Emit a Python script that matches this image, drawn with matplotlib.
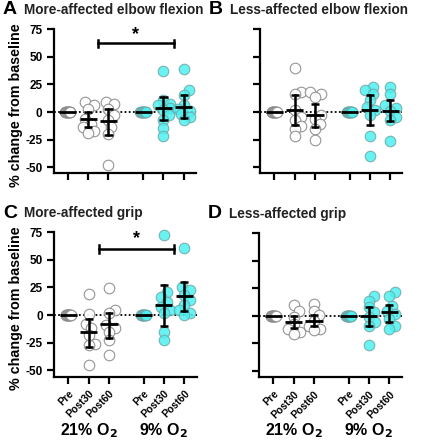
import numpy as np
import matplotlib
matplotlib.use("Agg")
import matplotlib.pyplot as plt

plt.rcParams['font.family'] = ['Liberation Sans', 'DejaVu Sans']
plt.rcParams['font.weight'] = 'bold'

conditions = ["Pre", "Post30", "Post60", "Pre", "Post30", "Post60"]
group_labels = ["21% O$_\\mathbf{2}$", "9% O$_\\mathbf{2}$"]
panel_letters = ["A", "B", "C", "D"]
panel_titles = ["More-affected elbow flexion", "Less-affected elbow flexion",
                "More-affected grip", "Less-affected grip"]

pre_zeros = [0, 0, 0, 0, 0, 0, 0, 0, 0, 0]

# Panel A: more-affected elbow flexion
a_post30_21 = [9, 6, 3, -6, -10.5, -13.6, -17.5, -19]
a_post60_21 = [9, 7.5, 3, -3, -7.5, -13.6, -19.6, -48]
a_post30_9 = [37, 10.5, 7.5, 6, 4, 1.5, -3, -7.5, -14, -22]
a_post60_9 = [39, 19.6, 15, 6, 3, 1, -1.5, -4.5, -7.5]
a_center = [0, -6.6, -8.5, 0, 3.6, 5]
a_lower = [0, -13.6, -21, 0, -7.5, -5]
a_upper = [0, 0, 3, 0, 14, 15]

# Panel B: less-affected elbow flexion
b_post30_21 = [40, 18, 16, 2, -4.5, -7.5, -13, -15, -22]
b_post60_21 = [18, 16.6, 13.6, -3, -6, -10.6, -15, -25]
b_post30_9 = [22.7, 19.6, 16.6, 10.6, 4.5, 1.5, -3, -21.8, -40]
b_post60_9 = [22.7, 16, 6, 4, 1, -4.5, -7, -25.7]
b_center = [0, 1.5, -3, 0, 1.5, 1]
b_lower = [0, -11.8, -13.6, 0, -12, -8]
b_upper = [0, 15, 7.5, 0, 15, 10.6]

# Panel C: more-affected grip
c_post30_21 = [19, 0.6, -8, -12, -18, -25.7, -27, -45]
c_post60_21 = [24, 4.5, 1.5, -9, -12, -15, -22.7, -36]
c_post30_9 = [72.5, 21, 16.6, 12, 7.5, 4.5, 1.5, -15, -22.7]
c_post60_9 = [61, 25.7, 22.7, 18, 13.6, 9, 4.5, 1.5, 0]
c_center = [0, -15.7, -8.5, 0, 8.8, 17]
c_lower = [0, -28.7, -20.5, 0, -9.7, 3.6]
c_upper = [0, -3.6, 2, 0, 27, 29.6]

# Panel D: less-affected grip
d_post30_21 = [10, 4.5, -1, -7.5, -12, -15, -16.6]
d_post60_21 = [10.6, 4.5, 0.5, -4.5, -9, -12, -13]
d_post30_9 = [17.5, 13.6, 7.5, 3, -1, -6, -9, -26.5]
d_post60_9 = [21.8, 18, 9, 4.5, 1.5, -3, -9, -12]
d_center = [0, -6, -4.5, 0, -0.5, 3.3]
d_lower = [0, -11.5, -9, 0, -9.5, -5.7]
d_upper = [0, 0, 0.5, 0, 8, 10]

sig_bar_y = [62, None, 59.6, None]
sig_star_y = [70, None, 68.6, None]

panels = [
    ([pre_zeros, a_post30_21, a_post60_21, pre_zeros, a_post30_9, a_post60_9], a_center, a_lower, a_upper),
    ([pre_zeros, b_post30_21, b_post60_21, pre_zeros, b_post30_9, b_post60_9], b_center, b_lower, b_upper),
    ([pre_zeros, c_post30_21, c_post60_21, pre_zeros, c_post30_9, c_post60_9], c_center, c_lower, c_upper),
    ([pre_zeros, d_post30_21, d_post60_21, pre_zeros, d_post30_9, d_post60_9], d_center, d_lower, d_upper),
]

xpos = np.array([0, 1, 2, 3.7, 4.7, 5.7])
W, H = 428, 440
fig = plt.figure(figsize=(W / 100, H / 100), dpi=100)

# axes boxes in pixels: left, top, right, bottom
boxes = [(53.5, 29, 196, 173.5), (260, 29, 402.5, 173.5),
         (54, 232, 196.5, 376.5), (259, 233, 401.5, 377)]

white_face = "white"
white_edge = "#8a8a8a"
cyan_face = "#4DF0F0"
cyan_edge = "#6fa8a8"


def swarm_offsets(vals, ypx_per_unit, xpx_per_unit, diam=9.5, maxoff=0.3):
    vals = np.asarray(vals, dtype=float)
    order = np.argsort(vals)
    placed = []
    offs = np.zeros(len(vals))
    step = 0.13
    for i in order:
        y = vals[i] * ypx_per_unit
        chosen = 0.0
        for k in range(0, 12):
            cands = [0.0] if k == 0 else [k * step, -k * step]
            ok = None
            for c in cands:
                cx = c * xpx_per_unit
                if all((cx - px) ** 2 + (y - py) ** 2 >= (diam * 0.7) ** 2 for px, py in placed):
                    ok = c
                    break
            if ok is not None:
                chosen = ok
                break
        chosen = float(np.clip(chosen, -maxoff, maxoff))
        offs[i] = chosen
        placed.append((chosen * xpx_per_unit, y))
    return offs


for p, (box, (groups, center, lower, upper)) in enumerate(zip(boxes, panels)):
    l, t, r, b = box
    ax = fig.add_axes([l / W, 1 - b / H, (r - l) / W, (b - t) / H])
    ylo, yhi = -55.5, 75
    xlo, xhi = -0.7, 6.3
    ax.set_xlim(xlo, xhi)
    ax.set_ylim(ylo, yhi)
    ypx = (b - t) / (yhi - ylo)
    xpx = (r - l) / (xhi - xlo)

    ax.axhline(0, color="black", lw=1.3, ls=(0, (1, 1.3)), zorder=1)

    for gi, (x, vals) in enumerate(zip(xpos, groups)):
        cyan = gi >= 3
        if gi in (0, 3):
            offs = np.linspace(-0.13, 0.13, len(vals))
        else:
            offs = swarm_offsets(vals, ypx, xpx)
        ax.scatter(x + offs, vals, s=58,
                   facecolor=cyan_face if cyan else white_face,
                   edgecolor=cyan_edge if cyan else white_edge,
                   linewidths=0.8, alpha=0.85 if cyan else 0.9,
                   zorder=2, clip_on=False)
        # mean / error bars
        ax.plot([x - 0.42, x + 0.42], [center[gi]] * 2, color="black", lw=2.0,
                zorder=3, solid_capstyle="butt")
        if upper[gi] != lower[gi]:
            ax.plot([x, x], [lower[gi], upper[gi]], color="black", lw=1.8, zorder=3)
            for yy in (lower[gi], upper[gi]):
                ax.plot([x - 0.2, x + 0.2], [yy, yy], color="black", lw=1.8, zorder=3,
                        solid_capstyle="butt")

    if sig_bar_y[p] is not None:
        x1, x2 = 1.5, 5.2
        yb = sig_bar_y[p]
        ax.plot([x1, x2], [yb, yb], color="black", lw=1.8, clip_on=False)
        for xx in (x1, x2):
            ax.plot([xx, xx], [yb - 3.5, yb + 3.5], color="black", lw=1.8, clip_on=False)
        ax.text((x1 + x2) / 2, sig_star_y[p], "*", ha="center", va="center",
                fontsize=13, fontweight="bold")

    for s in ("top", "right"):
        ax.spines[s].set_visible(False)
    for s in ("left", "bottom"):
        ax.spines[s].set_linewidth(1.6)
    ax.set_yticks([-50, -25, 0, 25, 50, 75])
    ax.set_xticks(xpos)
    ax.tick_params(axis="both", width=1.6, length=5, direction="out", labelsize=8.5)
    ax.tick_params(axis="y", pad=3)
    if p in (0, 2):
        ax.set_yticklabels(["-50", "-25", "0", "25", "50", "75"], fontweight="bold")
        ax.set_ylabel("% change from baseline", fontsize=10.3, fontweight="bold")
        ax.yaxis.set_label_coords((23 - l) / (r - l), 0.47)
    else:
        ax.set_yticklabels([])
    if p in (2, 3):
        ax.set_xticklabels(conditions, rotation=45, ha="right", rotation_mode="anchor",
                           fontsize=7.5, fontweight="bold")
        ax.text(np.mean(xpos[:3]), -104, group_labels[0], ha="center", va="center",
                fontsize=11.5, fontweight="bold")
        ax.text(np.mean(xpos[3:]), -104, group_labels[1], ha="center", va="center",
                fontsize=11.5, fontweight="bold")
    else:
        ax.set_xticklabels([])

    # panel letter + title
    fig.text((l - 51) / W, 1 - (t - 19) / H, panel_letters[p], fontsize=14,
             fontweight="bold", va="center", ha="left")
    fig.text((l - 30) / W, 1 - (t - 19) / H, panel_titles[p], fontsize=9.8,
             fontweight="bold", va="center", ha="left", color="#222222")

fig.savefig("out.png", dpi=100)
